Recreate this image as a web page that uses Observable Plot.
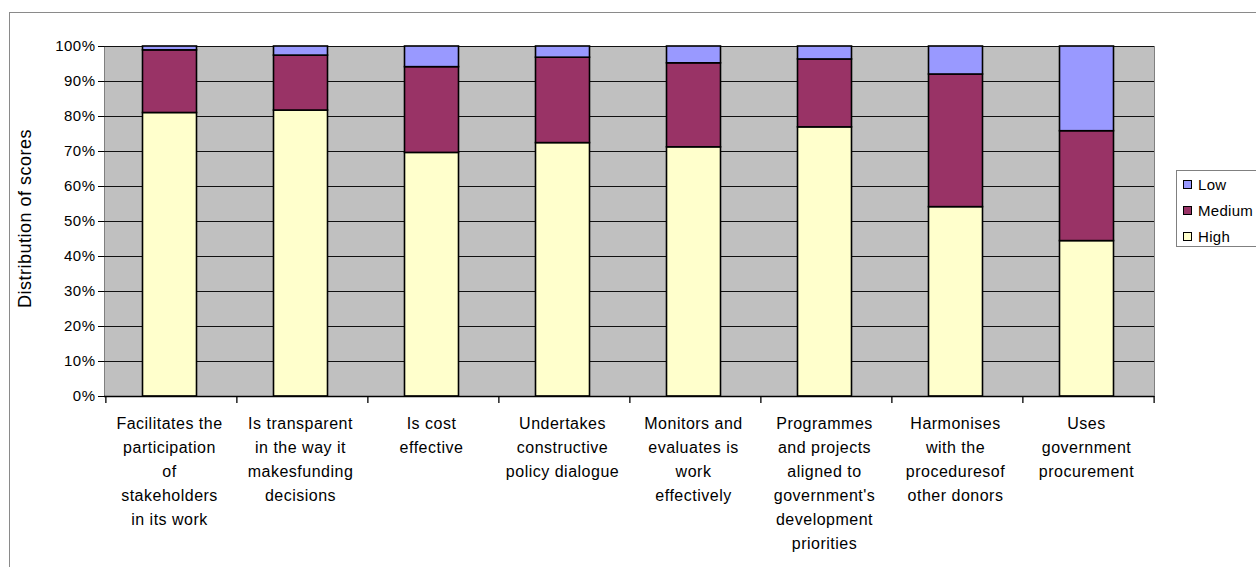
<!DOCTYPE html>
<html>
<head>
<meta charset="utf-8">
<script src="https://cdn.jsdelivr.net/npm/d3@7"></script>
<script src="https://cdn.jsdelivr.net/npm/@observablehq/plot@0.6"></script>
<style>
  html, body { margin: 0; padding: 0; background: #fff; }
  body { width: 1256px; height: 567px; position: relative; overflow: hidden; font-family: "Liberation Sans", Arial, sans-serif; }
  #frame { position: absolute; left: 9px; top: 12px; width: 1300px; height: 600px; border-top: 1.5px solid #8a8a8a; border-left: 1.5px solid #8a8a8a; }
  #chart { position: absolute; left: 0; top: 0; }
  #legend { position: absolute; left: 1176px; top: 170px; width: 100px; height: 77px; border: 1px solid #808080; background: #fff; box-sizing: border-box; }
  .item { position: absolute; left: 6px; height: 16px; display: flex; align-items: center; font-size: 15px; letter-spacing: 0.3px; color: #000; }
  .sw { width: 7px; height: 7px; border: 1.5px solid #000; margin-right: 6px; }
</style>
</head>
<body>
<div id="frame"></div>
<div id="chart"></div>
<div id="legend"></div>
<script>
// ---- data ----
const categories = [
  "Facilitates the\nparticipation\nof\nstakeholders\nin its work",
  "Is transparent\nin the way it\nmakesfunding\ndecisions",
  "Is cost\neffective",
  "Undertakes\nconstructive\npolicy dialogue",
  "Monitors and\nevaluates is\nwork\neffectively",
  "Programmes\nand projects\naligned to\ngovernment's\ndevelopment\npriorities",
  "Harmonises\nwith the\nproceduresof\nother donors",
  "Uses\ngovernment\nprocurement"
];
const levels = ["Low", "Medium", "High"];
const levelColors = ["#9999FF", "#993366", "#FFFFCC"];
const high   = [81.0, 81.7, 69.6, 72.4, 71.2, 76.9, 54.1, 44.4];
const medium = [17.9, 15.7, 24.5, 24.4, 24.0, 19.4, 37.9, 31.4];
const low    = [ 1.1,  2.6,  5.9,  3.2,  4.8,  3.7,  8.0, 24.2];
const yTicks = [0, 10, 20, 30, 40, 50, 60, 70, 80, 90, 100];
const yTitle = "Distribution of scores";

// build table
const rows = [];
categories.forEach((c, i) => {
  rows.push({cat: c, level: "High", value: high[i]});
  rows.push({cat: c, level: "Medium", value: medium[i]});
  rows.push({cat: c, level: "Low", value: low[i]});
});

const W = 1256, H = 567;
const mLeft = 104, mRight = 102, mTop = 46, mBottom = 171;
const step = (W - mLeft - mRight) / categories.length;

const chart = Plot.plot({
  width: W,
  height: H,
  marginLeft: mLeft,
  marginRight: mRight,
  marginTop: mTop,
  marginBottom: mBottom,
  style: {fontFamily: "'Liberation Sans', Arial, sans-serif", background: "transparent", overflow: "visible"},
  x: {domain: categories, paddingInner: 0.589, paddingOuter: 0.2945, axis: null},
  y: {domain: [0, 100], axis: null},
  color: {domain: levels, range: levelColors},
  marks: [
    Plot.frame({fill: "#C0C0C0", stroke: "#808080", strokeWidth: 1}),
    Plot.ruleY(yTicks.filter(d => d > 0), {y: d => d, stroke: "#111", strokeWidth: 1.2}),
    Plot.barY(rows, {
      x: "cat", y: "value", fill: "level",
      order: ["High", "Medium", "Low"],
      stroke: "#000", strokeWidth: 1.6, dx: -1.5
    }),
    Plot.axisY({
      ticks: yTicks, tickFormat: d => d + "%", tickSize: 6, tickPadding: 3,
      fontSize: 15, stroke: "#000", label: null
    }),
    Plot.ruleX([0], {frameAnchor: "left", y1: -2, y2: 100, stroke: "#000", strokeWidth: 1.3}),
    Plot.ruleY([0], {stroke: "#000", strokeWidth: 1.3}),
    // category separator ticks below the axis
    Plot.ruleX(categories, {x: d => d, dx: -step / 2, y1: 0, y2: -2, stroke: "#000", strokeWidth: 1.3}),
    Plot.ruleX(categories.slice(-1), {x: d => d, dx: step / 2, y1: 0, y2: -2, stroke: "#000", strokeWidth: 1.3}),
    // category labels
    Plot.text(categories, {
      x: d => d, text: d => d, frameAnchor: "bottom", lineAnchor: "top",
      dy: 15, dx: -2, fontSize: 16, lineHeight: 1.5, fill: "#000"
    }),
    // y title
    Plot.text([yTitle], {
      text: d => d, frameAnchor: "left", textAnchor: "middle", dx: -79, dy: -3, rotate: -90,
      fontSize: 18, fill: "#000"
    })
  ]
});
chart.querySelectorAll("text").forEach(t => t.setAttribute("letter-spacing", "0.5"));
document.getElementById("chart").appendChild(chart);

// legend
const legend = document.getElementById("legend");
levels.forEach((lv, i) => {
  const item = document.createElement("div");
  item.className = "item";
  item.style.top = (5 + i * 26) + "px";
  const sw = document.createElement("span");
  sw.className = "sw";
  sw.style.background = levelColors[i];
  item.appendChild(sw);
  item.appendChild(document.createTextNode(lv));
  legend.appendChild(item);
});
</script>
</body>
</html>
